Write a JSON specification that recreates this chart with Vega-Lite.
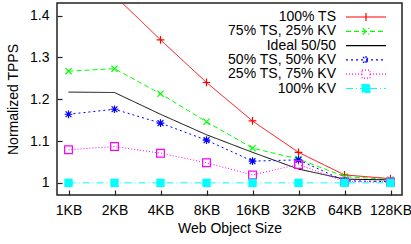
{
  "$schema": "https://vega.github.io/schema/vega-lite/v6.json",
  "width": 345,
  "height": 192,
  "autosize": {"type": "none"},
  "padding": {"left": 57, "top": 3, "right": 9, "bottom": 49},
  "background": "white",
  "config": {
    "font": "Liberation Sans",
    "view": {"stroke": "#222", "strokeWidth": 1.5},
    "axis": {"domain": false, "grid": false, "labelFont": "Liberation Sans", "labelFontSize": 14, "labelColor": "#000", "titleFont": "Liberation Sans", "titleFontSize": 14, "titleFontWeight": "normal", "titleColor": "#000", "tickColor": "#222", "tickWidth": 1.2}
  },
  "data": {"values": [
    {"size": "1KB", "series": "100% TS", "v": 1.55},
    {"size": "2KB", "series": "100% TS", "v": 1.448},
    {"size": "4KB", "series": "100% TS", "v": 1.342},
    {"size": "8KB", "series": "100% TS", "v": 1.240},
    {"size": "16KB", "series": "100% TS", "v": 1.148},
    {"size": "32KB", "series": "100% TS", "v": 1.073},
    {"size": "64KB", "series": "100% TS", "v": 1.019},
    {"size": "128KB", "series": "100% TS", "v": 1.010},
    {"size": "1KB", "series": "75% TS, 25% KV", "v": 1.267},
    {"size": "2KB", "series": "75% TS, 25% KV", "v": 1.273},
    {"size": "4KB", "series": "75% TS, 25% KV", "v": 1.213},
    {"size": "8KB", "series": "75% TS, 25% KV", "v": 1.146},
    {"size": "16KB", "series": "75% TS, 25% KV", "v": 1.083},
    {"size": "32KB", "series": "75% TS, 25% KV", "v": 1.057},
    {"size": "64KB", "series": "75% TS, 25% KV", "v": 1.015},
    {"size": "128KB", "series": "75% TS, 25% KV", "v": 1.008},
    {"size": "1KB", "series": "Ideal 50/50", "v": 1.217},
    {"size": "2KB", "series": "Ideal 50/50", "v": 1.216},
    {"size": "4KB", "series": "Ideal 50/50", "v": 1.164},
    {"size": "8KB", "series": "Ideal 50/50", "v": 1.115},
    {"size": "16KB", "series": "Ideal 50/50", "v": 1.073},
    {"size": "32KB", "series": "Ideal 50/50", "v": 1.033},
    {"size": "64KB", "series": "Ideal 50/50", "v": 1.009},
    {"size": "128KB", "series": "Ideal 50/50", "v": 1.007},
    {"size": "1KB", "series": "50% TS, 50% KV", "v": 1.164},
    {"size": "2KB", "series": "50% TS, 50% KV", "v": 1.176},
    {"size": "4KB", "series": "50% TS, 50% KV", "v": 1.143},
    {"size": "8KB", "series": "50% TS, 50% KV", "v": 1.102},
    {"size": "16KB", "series": "50% TS, 50% KV", "v": 1.052},
    {"size": "32KB", "series": "50% TS, 50% KV", "v": 1.055},
    {"size": "64KB", "series": "50% TS, 50% KV", "v": 1.005},
    {"size": "128KB", "series": "50% TS, 50% KV", "v": 1.003},
    {"size": "1KB", "series": "25% TS, 75% KV", "v": 1.079},
    {"size": "2KB", "series": "25% TS, 75% KV", "v": 1.087},
    {"size": "4KB", "series": "25% TS, 75% KV", "v": 1.071},
    {"size": "8KB", "series": "25% TS, 75% KV", "v": 1.048},
    {"size": "16KB", "series": "25% TS, 75% KV", "v": 1.019},
    {"size": "32KB", "series": "25% TS, 75% KV", "v": 1.044},
    {"size": "64KB", "series": "25% TS, 75% KV", "v": 1.003},
    {"size": "128KB", "series": "25% TS, 75% KV", "v": 1.002},
    {"size": "1KB", "series": "100% KV", "v": 1.0},
    {"size": "2KB", "series": "100% KV", "v": 1.0},
    {"size": "4KB", "series": "100% KV", "v": 1.0},
    {"size": "8KB", "series": "100% KV", "v": 1.0},
    {"size": "16KB", "series": "100% KV", "v": 1.0},
    {"size": "32KB", "series": "100% KV", "v": 1.0},
    {"size": "64KB", "series": "100% KV", "v": 1.0},
    {"size": "128KB", "series": "100% KV", "v": 1.0}
  ]},
  "encoding": {
    "x": {"field": "size", "type": "ordinal", "sort": ["1KB", "2KB", "4KB", "8KB", "16KB", "32KB", "64KB", "128KB"], "scale": {"type": "point", "padding": 0.25}, "axis": {"title": "Web Object Size", "labelAngle": 0, "tickSize": -5, "labelPadding": 13, "titlePadding": 4}},
    "y": {"field": "v", "type": "quantitative", "scale": {"domain": [0.971, 1.43], "nice": false, "zero": false}, "axis": {"title": "Normalized TPPS", "values": [1, 1.1, 1.2, 1.3, 1.4], "format": "~g", "tickSize": -5, "labelPadding": 13, "titlePadding": 9}},
    "color": {"field": "series", "type": "nominal", "scale": {"domain": ["100% TS", "75% TS, 25% KV", "Ideal 50/50", "50% TS, 50% KV", "25% TS, 75% KV", "100% KV"], "range": ["#ff0000", "#00ff00", "#000000", "#0000ff", "#ff00ff", "#00ffff"]}}
  },
  "layer": [
    {
      "mark": {"type": "line", "clip": true, "strokeWidth": 1},
      "encoding": {
        "strokeDash": {"field": "series", "type": "nominal", "scale": {"domain": ["100% TS", "75% TS, 25% KV", "Ideal 50/50", "50% TS, 50% KV", "25% TS, 75% KV", "100% KV"], "range": [[1, 0], [5, 3], [1, 0], [2, 3], [1, 2], [7, 3, 1, 3]]}},
        "color": {"field": "series", "type": "nominal", "legend": {
          "title": null, "orient": "none", "legendX": 302, "legendY": 7,
          "symbolType": "M-5,0L5,0", "symbolSize": 64, "symbolStrokeWidth": 1.2,
          "labelOffset": -37, "labelAlign": "right", "labelFontSize": 14, "labelFont": "Liberation Sans", "labelColor": "#000",
          "rowPadding": 0.3, "padding": 0,
          "encode": {"symbols": {"update": {
            "shape": {"signal": "datum.value === '100% TS' ? 'M-5,0L5,0M0,-1L0,1' : datum.value === '75% TS, 25% KV' ? 'M-5,0L5,0M-0.8,-0.8L0.8,0.8M-0.8,0.8L0.8,-0.8' : datum.value === '50% TS, 50% KV' ? 'M-5,0L5,0M0,-1L0,1M-0.75,-0.75L0.75,0.75M-0.75,0.75L0.75,-0.75' : datum.value === '25% TS, 75% KV' ? 'M-5,0L-1,0M1,0L5,0M-1,-1L1,-1L1,1L-1,1Z' : datum.value === '100% KV' ? 'M-5,0L-1,0M1,0L5,0M-1,-1L1,-1L1,1L-1,1Z' : 'M-5,0L5,0'"},
            "fillOpacity": {"signal": "datum.value === '100% KV' ? 1 : 0"}
          }}}
        }}
      }
    },
    {
      "transform": [{"filter": "datum.series !== 'Ideal 50/50' && datum.series !== '100% KV'"}],
      "mark": {"type": "point", "clip": true, "filled": false, "size": 60, "strokeWidth": 1.2, "opacity": 1},
      "encoding": {
        "shape": {"field": "series", "type": "nominal", "legend": null, "scale": {"domain": ["100% TS", "75% TS, 25% KV", "50% TS, 50% KV", "25% TS, 75% KV"], "range": ["M-1,0L1,0M0,-1L0,1", "M-0.8,-0.8L0.8,0.8M-0.8,0.8L0.8,-0.8", "M-1,0L1,0M0,-1L0,1M-0.75,-0.75L0.75,0.75M-0.75,0.75L0.75,-0.75", "square"]}}
      }
    },
    {
      "transform": [{"filter": "datum.series === '100% KV'"}],
      "mark": {"type": "point", "clip": true, "filled": true, "shape": "square", "size": 70, "opacity": 1}
    }
  ]
}
